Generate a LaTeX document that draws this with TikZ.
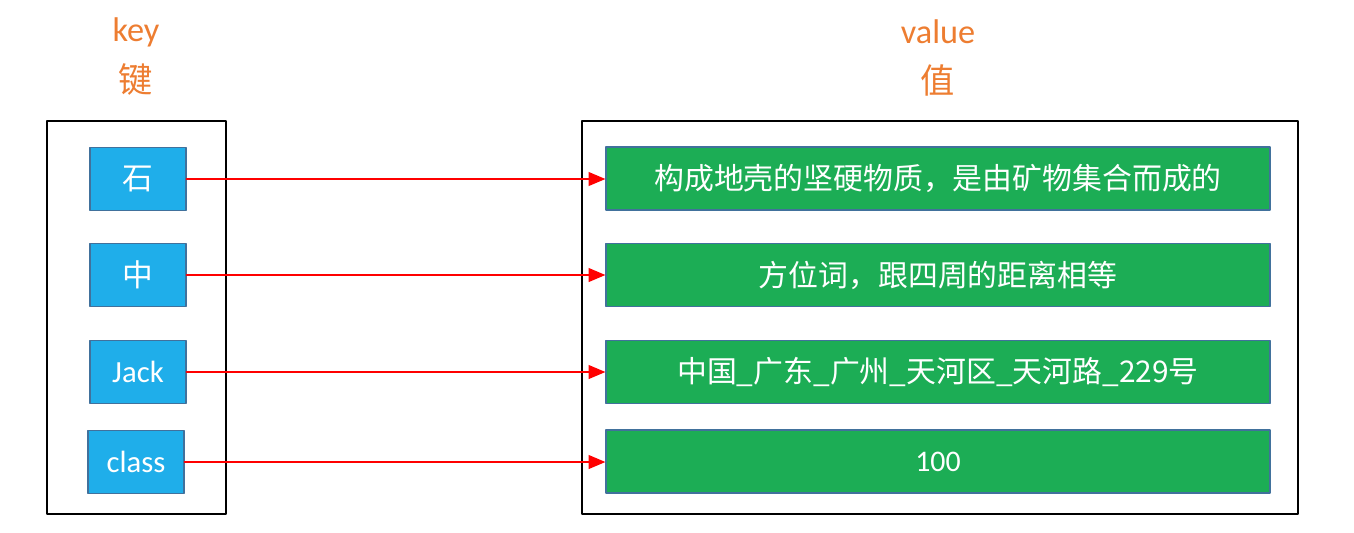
\documentclass[tikz,border=0pt]{standalone}
\usepackage{fontspec}
\setmainfont{Carlito}
\newfontfamily\cjk{Noto Sans CJK SC}
\usetikzlibrary{arrows,positioning}
\definecolor{keyblue}{HTML}{1FAEEA}
\definecolor{valgreen}{HTML}{1CAD55}
\definecolor{edgeblue}{HTML}{41719C}
\definecolor{titleorange}{HTML}{ED7D31}
\tikzset{
  keybox/.style={draw=edgeblue,line width=0.8pt,fill=keyblue,text=white,minimum width=1.92cm,minimum height=1.26cm,inner sep=0pt,font=\fontsize{17.5}{17.5}\selectfont},
  valbox/.style={draw=edgeblue,line width=0.8pt,fill=valgreen,text=white,minimum width=13.28cm,minimum height=1.26cm,inner sep=0pt,font=\fontsize{17}{17}\selectfont},
  title/.style={text=titleorange,font=\fontsize{19.5}{19.5}\selectfont},
  link/.style={->,red,line width=1.2pt}
}
\begin{document}
\begin{tikzpicture}[x=0.02cm,y=-0.02cm,line cap=round,line join=round,>=triangle 45]
\useasboundingbox (0,0) rectangle (1354,532);
% titles
\node[title] (keyname) at (136,32) {key};
\node[title] (keycn) at (136,80) {\cjk 键};
\node[title] (valname) at (938,32) {value};
\node[title] (valcn) at (938,80) {\cjk 值};
% outer frames
\draw[line width=1pt] (47,121) rectangle (226,514);
\draw[line width=1pt] (582,121) rectangle (1298,514);
% keys
\node[keybox] (k1) at (138,179) {\cjk 石};
\node[keybox] (k2) at (138,275) {\cjk 中};
\node[keybox] (k3) at (138,372) {Jack};
\node[keybox] (k4) at (136,462) {class};
% values
\node[valbox] (v1) at (938,178.5) {\cjk 构成地壳的坚硬物质，是由矿物集合而成的};
\node[valbox] (v2) at (938,275) {\cjk 方位词，跟四周的距离相等};
\node[valbox] (v3) at (938,372) {\cjk 中国\_广东\_广州\_天河区\_天河路\_229号};
\node[valbox] (v4) at (938,461.5) {100};
% links
\draw[link] (k1.east) -- (k1.east -| v1.west);
\draw[link] (k2.east) -- (k2.east -| v2.west);
\draw[link] (k3.east) -- (k3.east -| v3.west);
\draw[link] (k4.east) -- (k4.east -| v4.west);
\end{tikzpicture}
\end{document}
